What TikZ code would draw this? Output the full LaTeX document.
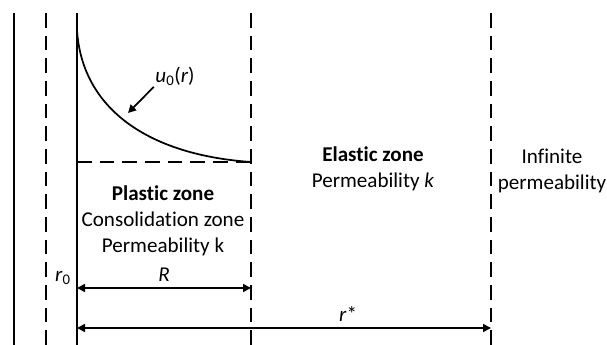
\documentclass[tikz,border=0pt]{standalone}
\usepackage{fontspec}
\setmainfont{Carlito}[Ligatures=NoCommon]
\usepackage{tikz}
\usetikzlibrary{arrows.meta}

\begin{document}
\begin{tikzpicture}[x=0.75pt, y=-0.75pt, >={Triangle[length=6pt, width=6pt]},
      font=\fontsize{15.8}{19.5}\selectfont,
      wall/.style={line width=1.5pt},
      bound/.style={line width=1.5pt, dash pattern=on 11pt off 6pt},
      dim/.style={<->, line width=1.3pt},
      zone/.style={align=center, inner sep=0pt}]
    \useasboundingbox (0,0) rectangle (607,345);
    % walls and zone boundaries
    \coordinate (w1t) at (14,13);  \coordinate (w1b) at (14,345);
    \coordinate (d1t) at (46,13);  \coordinate (d1b) at (46,345);
    \coordinate (w2t) at (77,13);  \coordinate (w2b) at (77,345);
    \coordinate (dRt) at (251,13); \coordinate (dRb) at (251,345);
    \coordinate (dSt) at (491,13); \coordinate (dSb) at (491,345);
    \draw[wall] (w1t) -- (w1b);
    \draw[bound] (d1t) -- (d1b);
    \draw[wall] (w2t) -- (w2b);
    \draw[bound] (dRt) -- (dRb);
    \draw[bound] (dSt) -- (dSb);
    % initial pore pressure
    \coordinate (u0t) at (77,30);
    \coordinate (u0e) at (251,162);
    \coordinate (u0b) at (77,162);
    \draw[line width=1.3pt] (u0t) .. controls (82,110) and (150,155) .. (u0e);
    \draw[bound] (u0b) -- (u0e);
    \node[inner sep=1pt] (ulab) at (175,76) {\textit{u}\textsubscript{0}(\textit{r})};
    \coordinate (ucurve) at (128,113);
    \draw[->, line width=1.3pt] (ulab.south west) -- (ucurve);
    % zones
    \node[zone] (plastic) at (163,221) {\textbf{Plastic zone}\\Consolidation zone\\Permeability k};
    \node[zone] (elastic) at (373,169) {\textbf{Elastic zone}\\Permeability \textit{k}};
    \node[zone] (infin) at (552,171) {Infinite\\permeability};
    % radii
    \node (r0lab) at (63,278) {\textit{r}\textsubscript{0}};
    \coordinate (Ra) at (77,288);  \coordinate (Rb) at (251,288);
    \draw[dim] (Ra) -- node[above=1pt] (Rlab) {\textit{R}} (Rb);
    \coordinate (sa) at (77,328);  \coordinate (sb) at (491,328);
    \draw[dim] (sa) -- node[above=1pt, pos=0.655] (slab) {\textit{r}*} (sb);
\end{tikzpicture}
\end{document}
